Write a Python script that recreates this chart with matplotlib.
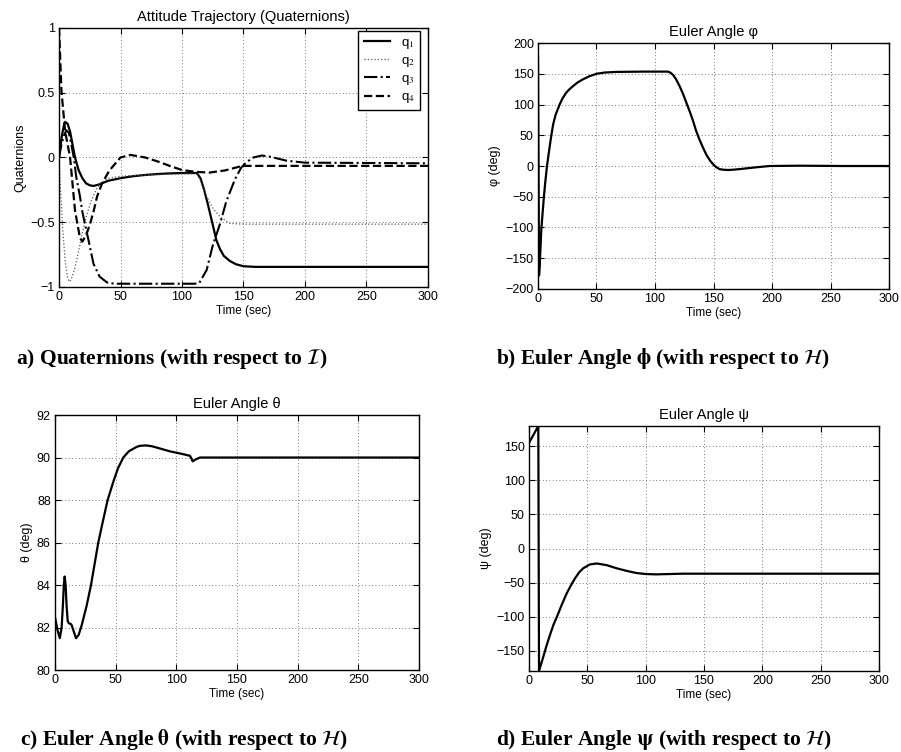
import numpy as np
import matplotlib
matplotlib.use('Agg')
from matplotlib import pyplot as plt

# values (time in sec)
q1_t = [0, 2, 4, 5, 7, 9, 11, 13, 16, 19, 22, 25, 28, 32, 36, 40, 50, 60, 70, 80, 90, 100, 112,
        115, 118, 121, 123, 126, 128, 131, 134, 139, 144, 150, 160, 300]
q1 = [0, 0.15, 0.25, 0.275, 0.26, 0.2, 0.1, 0.0, -0.1, -0.16, -0.2, -0.215, -0.22, -0.21, -0.195,
      -0.18, -0.16, -0.145, -0.135, -0.128, -0.123, -0.12, -0.12,
      -0.16, -0.25, -0.36, -0.44, -0.56, -0.64, -0.71, -0.76, -0.80, -0.825, -0.84, -0.845, -0.845]

q2_t = [0, 1, 3, 5, 7, 8.5, 10, 13, 16, 19, 22, 26, 30, 34, 40, 50, 70, 90, 112,
        115, 120, 125, 131, 139, 150, 300]
q2 = [0, -0.2, -0.55, -0.8, -0.93, -0.96, -0.94, -0.85, -0.72, -0.58, -0.46, -0.34, -0.25, -0.2,
      -0.16, -0.145, -0.135, -0.13, -0.125,
      -0.18, -0.3, -0.39, -0.46, -0.51, -0.515, -0.515]

q3_t = [0, 2, 4, 6, 8, 10, 12, 14, 17, 19, 21, 24, 28, 33, 39, 45, 110,
        114, 120, 125, 131, 136, 143, 148, 152, 158, 165, 172, 185, 200, 300]
q3 = [0, 0.1, 0.17, 0.21, 0.19, 0.1, 0.0, -0.15, -0.3, -0.42, -0.51, -0.64, -0.82, -0.92, -0.965,
      -0.975, -0.975,
      -0.97, -0.87, -0.68, -0.51, -0.34, -0.17, -0.08, -0.04, 0.0, 0.015, 0.005, -0.025, -0.04, -0.045]

q4_t = [0, 2, 5, 9, 13, 17, 19, 22, 25, 28, 31, 35, 41, 50, 58, 70, 80, 90, 100, 110, 122,
        135, 147, 150, 300]
q4 = [1.0, 0.51, 0.2, 0.0, -0.41, -0.62, -0.65, -0.6, -0.52, -0.42, -0.3, -0.2, -0.1, 0.0, 0.02,
      0.0, -0.03, -0.065, -0.097, -0.11, -0.117, -0.1, -0.07, -0.065, -0.065]

phi_t = [0, 0.9, 1.5, 2.85, 4, 5.1, 6.3, 7.7, 9.5, 11.4, 13, 15, 18.5, 21, 24, 27, 30, 34, 38.5,
         44, 50, 57, 67, 90, 111, 113, 115.5, 118, 121, 124, 127, 130, 132.6, 135, 138, 141,
         144, 147, 150, 152.5, 155, 158, 162.5, 167, 172.5, 187, 198, 224, 260, 300]
phi = [178, -178, -160, -103, -75, -49, -25, 0, 25, 50, 68, 83, 100, 110, 119, 125, 130, 136, 141,
       146, 150, 152, 153, 153.5, 153.5, 152, 148, 141, 130, 117, 102, 87, 73, 58, 43, 30,
       18, 9, 2, -2, -5, -6, -6.5, -6, -5, -2, 0, 0.5, 0, 0]

theta_t = [0, 2, 4, 5.5, 6.5, 7.3, 8, 8.8, 9.6, 10.5, 11.5, 13.5, 15, 17.3, 19.5, 22, 26, 29.7,
           32.7, 35.7, 39.5, 43.4, 48.6, 52, 56.3, 61, 67.3, 70, 75, 80, 85, 94.8, 104, 111.3,
           112.5, 113.5, 115, 116.8, 119.5, 300]
theta = [82.5, 81.9, 81.5, 82.0, 83.0, 84.0, 84.4, 84.0, 83.0, 82.3, 82.2, 82.15, 81.9, 81.5,
         81.65, 82.1, 83.0, 84.0, 85.0, 86.0, 87.0, 88.0, 88.95, 89.5, 90.0, 90.3, 90.5, 90.55,
         90.57, 90.53, 90.45, 90.29, 90.18, 90.08, 89.95, 89.82, 89.88, 89.93, 90.0, 90.0]

psi_t = [0, 8.0, 8.6, 12.3, 15, 18, 21, 24.5, 28, 32.3, 36, 39.4, 43, 46.5, 52, 58, 66.5, 75,
         84, 92, 100, 109, 132, 300]
psi = [155, 180, -180, -159, -143, -127, -112, -98, -83, -66, -54, -44, -35, -29, -23.5, -22,
       -24.4, -29, -33, -36, -37.5, -38, -37, -37]

xticks = [0, 50, 100, 150, 200, 250, 300]

plt.rcParams['font.family'] = ['Liberation Sans', 'DejaVu Sans']
plt.rcParams['mathtext.fontset'] = 'stix'


def style_axes(ax, title, ylabel, ylim, yticks):
    ax.set_xlim(0, 300)
    ax.set_ylim(*ylim)
    ax.set_xticks(xticks)
    ax.set_yticks(yticks)
    ax.tick_params(direction='in', length=4, width=0.8, labelsize=9,
                   top=True, right=True, pad=3)
    ax.grid(True, linestyle=(0, (1, 3)), color='0.3', linewidth=0.6)
    for s in ax.spines.values():
        s.set_linewidth(1.0)
    ax.set_title(title, fontsize=10.5, pad=5)
    ax.set_xlabel('Time (sec)', fontsize=8.5, labelpad=1)
    ax.set_ylabel(ylabel, fontsize=9, labelpad=3)


fig = plt.figure(figsize=(9.01, 7.52), dpi=100)

ax1 = fig.add_axes([0.0655, 0.6184, 0.4095, 0.3444])
ax1.plot(q1_t, q1, '-', color='k', lw=1.6, label='q$_1$')
ax1.plot(q2_t, q2, ':', color='0.35', lw=0.9, label='q$_2$')
ax1.plot(q3_t, q3, '-.', color='k', lw=1.5, label='q$_3$')
ax1.plot(q4_t, q4, '--', color='k', lw=1.6, label='q$_4$')
style_axes(ax1, 'Attitude Trajectory (Quaternions)', 'Quaternions', (-1, 1), [-1, -0.5, 0, 0.5, 1])
ax1.set_yticklabels(['\u22121', '\u22120.5', '0', '0.5', '1'])
leg = ax1.legend(loc='upper right', bbox_to_anchor=(0.978, 0.988), borderaxespad=0,
                 fontsize=9.5, fancybox=False, framealpha=1, edgecolor='k',
                 handlelength=2.0, labelspacing=0.3)
leg.get_frame().set_linewidth(1.0)

ax2 = fig.add_axes([0.5971, 0.6157, 0.3896, 0.3271])
ax2.plot(phi_t, phi, color='k', lw=1.6)
style_axes(ax2, 'Euler Angle \u03c6', '\u03c6 (deg)', (-200, 200), list(range(-200, 201, 50)))

ax3 = fig.add_axes([0.061, 0.1090, 0.404, 0.3391])
ax3.plot(theta_t, theta, color='k', lw=1.6)
style_axes(ax3, 'Euler Angle \u03b8', '\u03b8 (deg)', (80, 92), list(range(80, 93, 2)))

ax4 = fig.add_axes([0.5871, 0.1077, 0.3885, 0.3258])
ax4.plot(psi_t, psi, color='k', lw=1.6)
style_axes(ax4, 'Euler Angle \u03c8', '\u03c8 (deg)', (-180, 180), list(range(-150, 151, 50)))

cap = dict(fontsize=15.5, fontweight='bold', family=['Liberation Serif', 'DejaVu Serif'],
           ha='left', va='baseline')
fig.text(0.018, 0.516, r'a) Quaternions (with respect to $\mathcal{I}$)', **cap)
fig.text(0.551, 0.516, r'b) Euler Angle $\mathbf{\phi}$ (with respect to $\mathcal{H}$)', **cap)
fig.text(0.022, 0.0093, r'c) Euler Angle $\mathbf{\theta}$ (with respect to $\mathcal{H}$)', **cap)
fig.text(0.551, 0.0093, r'd) Euler Angle $\mathbf{\psi}$ (with respect to $\mathcal{H}$)', **cap)

fig.savefig('out.png', dpi=100)
